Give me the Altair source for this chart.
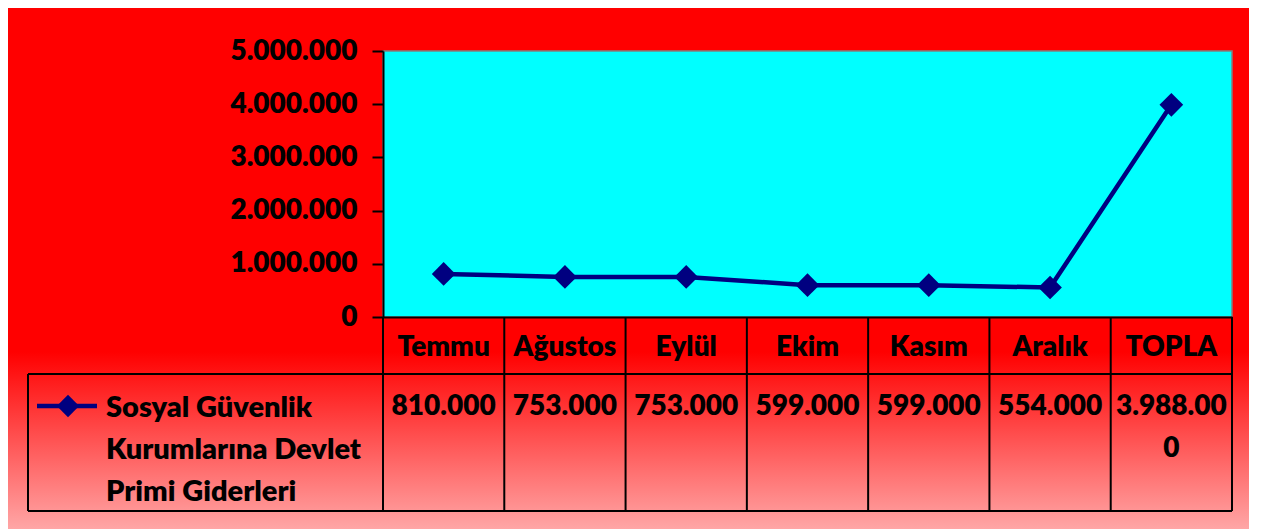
import altair as alt
import pandas as pd

# ---- data ----
categories = ["Temmu", "Ağustos", "Eylül", "Ekim", "Kasım", "Aralık", "TOPLA"]
values = [810000, 753000, 753000, 599000, 599000, 554000, 3988000]
series_lines = ["Sosyal Güvenlik", "Kurumlarına Devlet", "Primi Giderleri"]
y_ticks = [0, 1000000, 2000000, 3000000, 4000000, 5000000]


def tr_fmt(v):
    return f"{v:,}".replace(",", ".")


def wrap(s, n=8):
    return "\n".join(s[i:i + n] for i in range(0, len(s), n))


df = pd.DataFrame({
    "cat": categories,
    "val": values,
    "label": [wrap(tr_fmt(v)) for v in values],
})
one = pd.DataFrame({"k": [0]})
legend_df = pd.DataFrame({"name": ["\n".join(series_lines)]})

W, H = 849, 266
FONT = "Lato"
FS = 28
FW = 800
NAVY = "#000080"

xscale = alt.Scale(type="band", domain=categories, paddingInner=0, paddingOuter=0)
yscale = alt.Scale(domain=[0, 5000000], nice=False)

xaxis = alt.Axis(title=None, domainColor="black", domainWidth=2, ticks=False,
                 tickSize=0, labelAngle=0, labelFont=FONT, labelFontWeight=FW,
                 labelFontSize=FS, labelColor="black", labelBaseline="alphabetic",
                 labelPadding=38, labelLimit=0, zindex=2)
yaxis = alt.Axis(title=None, values=y_ticks, grid=False, domainColor="black",
                 domainWidth=2, tickColor="black", tickWidth=2, tickSize=11,
                 labelFont=FONT, labelFontWeight=FW, labelFontSize=FS,
                 labelColor="black", labelPadding=15, zindex=2,
                 labelExpr="replace(format(datum.value, ','), regexp(',', 'g'), '.')")


def X(bp=0.5):
    return alt.X("cat:N", scale=xscale, sort=categories, axis=xaxis, bandPosition=bp)


Y = alt.Y("val:Q", scale=yscale, axis=yaxis)

grad = alt.Chart(one).mark_rect(
    color=alt.LinearGradient(
        gradient="linear",
        stops=[alt.GradientStop(color="#FF0000", offset=0),
               alt.GradientStop(color="#FFA6A6", offset=1)],
        x1=0, x2=0, y1=0, y2=1)
).encode(x=alt.value(-375), x2=alt.value(W + 17), y=alt.value(301), y2=alt.value(478))

base = alt.Chart(df)
line = base.mark_line(color=NAVY, strokeWidth=4.5).encode(x=X(), y=Y)
points = base.mark_point(shape="diamond", filled=True, size=560, color=NAVY,
                         opacity=1).encode(x=X(), y=Y)

col_lines = base.mark_rule(color="black", strokeWidth=2).encode(
    x=X(0), y=alt.value(H), y2=alt.value(460))
last_line = alt.Chart(df.iloc[[-1]]).mark_rule(color="black", strokeWidth=2).encode(
    x=X(1), y=alt.value(H), y2=alt.value(460))

h1 = alt.Chart(one).mark_rule(color="black", strokeWidth=2).encode(
    x=alt.value(-355), x2=alt.value(W), y=alt.value(323))
h2 = alt.Chart(one).mark_rule(color="black", strokeWidth=2).encode(
    x=alt.value(-355), x2=alt.value(W), y=alt.value(460))
v0 = alt.Chart(one).mark_rule(color="black", strokeWidth=2).encode(
    x=alt.value(-355), y=alt.value(323), y2=alt.value(460))

val_text = base.mark_text(font=FONT, fontWeight=FW, fontSize=FS,
                          baseline="alphabetic", lineBreak="\n", lineHeight=42,
                          color="black").encode(
    x=X(), y=alt.value(364), text="label:N")

leg_text = alt.Chart(legend_df).mark_text(font=FONT, fontWeight=FW, fontSize=29,
                                          baseline="alphabetic", align="left",
                                          lineBreak="\n", lineHeight=42,
                                          color="black").encode(
    x=alt.value(-277), y=alt.value(366), text="name:N")
leg_line = alt.Chart(one).mark_rule(color=NAVY, strokeWidth=4.5).encode(
    x=alt.value(-346), x2=alt.value(-286), y=alt.value(355))
leg_pt = alt.Chart(one).mark_point(shape="diamond", filled=True, size=500, color=NAVY,
                                   opacity=1).encode(
    x=alt.value(-315), y=alt.value(355))

chart = alt.layer(
    grad, line, points, col_lines, last_line, h1, h2, v0, val_text,
    leg_text, leg_line, leg_pt
).properties(
    width=W, height=H, autosize="none",
    padding={"left": 375, "top": 43, "right": 17, "bottom": 212},
    background="#FF0000",
).configure_view(fill="#00FFFF", stroke="#808080", strokeWidth=1.5)

chart.save("out.html", embed_options={"renderer": "svg", "actions": False})
